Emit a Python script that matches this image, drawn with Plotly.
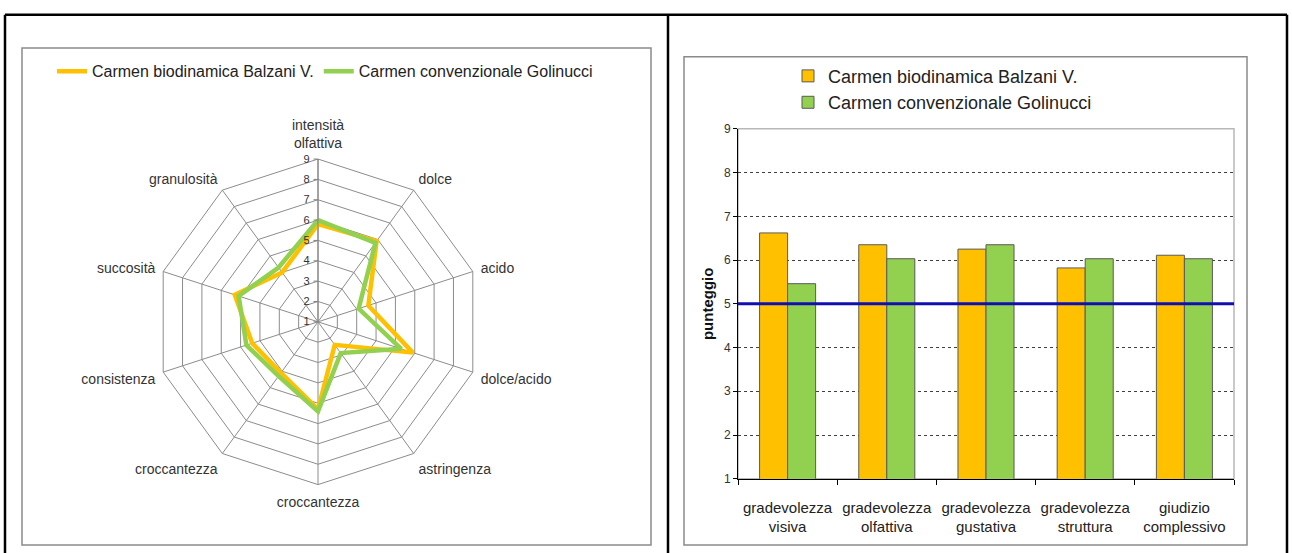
import plotly.graph_objects as go

# ---- sensory profile (radar) ----
attributes = ["intensità<br>olfattiva", "dolce", "acido", "dolce/acido", "astringenza",
              "croccantezza", "croccantezza", "consistenza", "succosità", "granulosità"]
balzani_profile = [5.8, 5.9, 3.6, 5.9, 2.4, 5.3, 4.1, 4.4, 5.3, 4.0]
golinucci_profile = [6.0, 5.8, 3.1, 5.3, 2.9, 5.4, 4.3, 4.7, 5.1, 4.3]

# ---- liking scores (bars) ----
criteria = ["gradevolezza<br>visiva", "gradevolezza<br>olfattiva", "gradevolezza<br>gustativa",
            "gradevolezza<br>struttura", "giudizio<br>complessivo"]
balzani_scores = [6.62, 6.35, 6.25, 5.82, 6.11]
golinucci_scores = [5.46, 6.03, 6.35, 6.03, 6.03]
acceptability = 5

series_names = ["Carmen biodinamica Balzani V.", "Carmen convenzionale Golinucci"]
ORANGE = "#FFC000"
GREEN = "#92D050"
FONT = "Liberation Sans, Arial, sans-serif"

W, H = 1292, 553


def px_x(x):
    return x / W


def px_y(y):
    return 1 - y / H


# unique category keys so the two "croccantezza" spokes stay separate
spokes = [f"k{i}" for i in range(len(attributes))]

fig = go.Figure()

for name, vals, col in [(series_names[0], balzani_profile, ORANGE),
                        (series_names[1], golinucci_profile, GREEN)]:
    fig.add_trace(go.Scatterpolar(
        r=vals + vals[:1], theta=spokes + spokes[:1], mode="lines",
        line=dict(color=col, width=4.5), name=name, legend="legend",
        hoverinfo="skip",
    ))

for name, vals, col in [(series_names[0], balzani_scores, ORANGE),
                        (series_names[1], golinucci_scores, GREEN)]:
    fig.add_trace(go.Bar(
        x=criteria, y=vals, name=name, marker=dict(color=col, line=dict(color="#5a5a5a", width=1)),
        legend="legend2", xaxis="x", yaxis="y",
    ))

cx, cy, R = 318, 323, 167
fig.update_layout(
    width=W, height=H, autosize=False,
    margin=dict(l=0, r=0, t=0, b=0),
    paper_bgcolor="white", plot_bgcolor="white",
    font=dict(family=FONT, color="#222222"),
    barmode="group", bargap=0.435, bargroupgap=0,
    polar=dict(
        domain=dict(x=[px_x(cx - R), px_x(cx + R)], y=[px_y(cy + R), px_y(cy - R)]),
        gridshape="linear", bgcolor="white",
        radialaxis=dict(range=[1, 9], dtick=1, angle=90, tickangle=90, side="counterclockwise",
                        showline=True, linecolor="#808080", linewidth=1,
                        gridcolor="#8c8c8c", gridwidth=1, ticks="outside", ticklen=4,
                        tickcolor="#808080", tickfont=dict(size=11, color="#333333")),
        angularaxis=dict(type="category", rotation=90, direction="clockwise",
                         tickmode="array", tickvals=spokes, ticktext=attributes,
                         showline=True, linecolor="#8c8c8c", linewidth=1,
                         gridcolor="#8c8c8c", gridwidth=1,
                         ticks="outside", ticklen=5, tickcolor="rgba(0,0,0,0)",
                         tickfont=dict(size=14, color="#333333")),
    ),
    xaxis=dict(domain=[px_x(738), px_x(1234)], type="category",
               showline=True, linecolor="black", linewidth=1,
               ticks="outside", tickson="boundaries", ticklen=5, tickcolor="black",
               ticklabelstandoff=15,
               tickfont=dict(size=15, color="#222222"), showgrid=False),
    yaxis=dict(domain=[px_y(484), px_y(125)], range=[1, 9], dtick=1,
               showline=True, linecolor="black", linewidth=1,
               ticks="outside", ticklen=4, tickcolor="black",
               showgrid=True, gridcolor="#404040", griddash="dot", gridwidth=1,
               tickfont=dict(size=12, color="#333333"),
               title=dict(text="<b>punteggio</b>", font=dict(size=15, color="#111111"), standoff=6),
               zeroline=False),
    legend=dict(orientation="h", x=px_x(325), y=px_y(66), xanchor="center", yanchor="middle",
                font=dict(size=16, color="#222222"), bgcolor="rgba(0,0,0,0)",
                itemwidth=30),
    legend2=dict(orientation="v", x=px_x(788), y=px_y(52), xanchor="left", yanchor="top",
                 font=dict(size=18, color="#222222"), bgcolor="rgba(0,0,0,0)"),
    showlegend=True,
)

shapes = []
# reference score line
shapes.append(dict(type="line", xref="x domain", yref="y", x0=0, x1=1,
                   y0=acceptability, y1=acceptability,
                   line=dict(color="#1010B0", width=3), layer="above"))
# chart-area frames
for x0, x1, top in [(22, 651, 42), (684, 1247, 51)]:
    shapes.append(dict(type="rect", xref="paper", yref="paper",
                       x0=px_x(x0), x1=px_x(x1), y0=px_y(552), y1=px_y(top),
                       line=dict(color="#8a8a8a", width=1.5), layer="below"))
# plot-area frame of the bar chart (top and right edges)
shapes.append(dict(type="rect", xref="x domain", yref="y domain", x0=0, x1=1, y0=0, y1=1,
                   line=dict(color="#b8b8b8", width=1.5), layer="below"))
# table rules around the two panels
for x in (5, 668, 1287):
    shapes.append(dict(type="line", xref="paper", yref="paper",
                       x0=px_x(x), x1=px_x(x), y0=-0.05, y1=px_y(8),
                       line=dict(color="black", width=2.5)))
shapes.append(dict(type="line", xref="paper", yref="paper",
                   x0=px_x(5), x1=px_x(1287), y0=px_y(8), y1=px_y(8),
                   line=dict(color="black", width=2.5)))
for s in shapes:
    fig.add_shape(**s)

fig.write_html("out.html")
